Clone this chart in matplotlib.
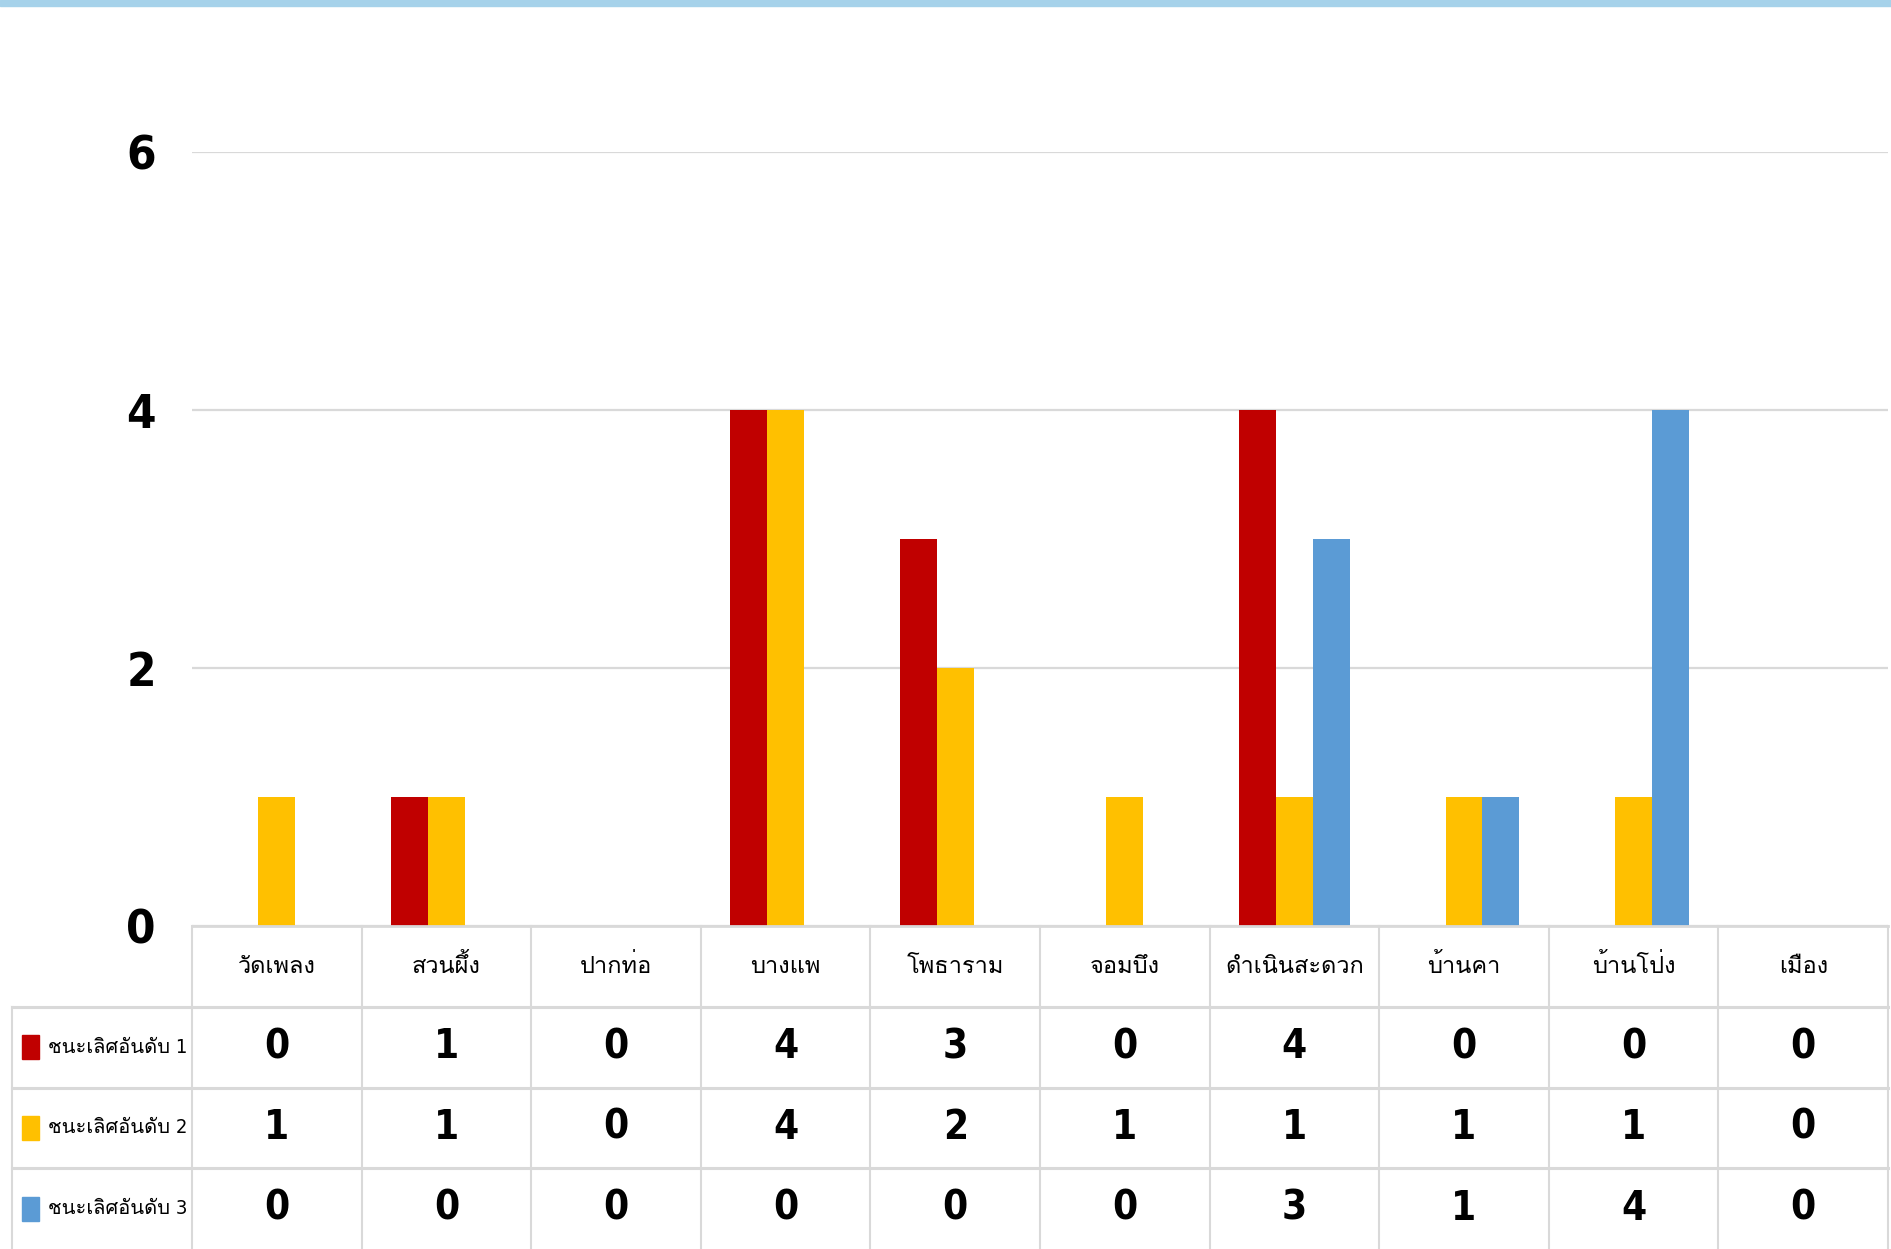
import numpy as np
import matplotlib
matplotlib.use('Agg')
import matplotlib.pyplot as plt
from matplotlib import font_manager, ft2font
from matplotlib.patches import Rectangle

# data
districts = ['วัดเพลง', 'สวนผึ้ง', 'ปากท่อ', 'บางแพ', 'โพธาราม', 'จอมบึง',
             'ดำเนินสะดวก', 'บ้านคา', 'บ้านโป่ง', 'เมือง']
series_names = ['ชนะเลิศอันดับ 1', 'ชนะเลิศอันดับ 2', 'ชนะเลิศอันดับ 3']
first = [0, 1, 0, 4, 3, 0, 4, 0, 0, 0]
second = [1, 1, 0, 4, 2, 1, 1, 1, 1, 0]
third = [0, 0, 0, 0, 0, 0, 3, 1, 4, 0]
colors = ['#C00000', '#FFC000', '#5B9BD5']
yticks = [0, 2, 4, 6]


def find_thai():
    # look for any installed font that has Thai glyphs
    names = []
    for f in font_manager.fontManager.ttflist:
        try:
            if 0x0E01 in ft2font.FT2Font(f.fname).get_charmap():
                names.append(f.name)
        except Exception:
            pass
    return names[:1]


fams = ['Liberation Sans Narrow', 'DejaVu Sans'] + find_thai()

W, H = 1891, 1249
fig = plt.figure(figsize=(W / 100, H / 100), dpi=100)
fig.patch.set_facecolor('white')

left, right, y0, y6 = 192, 1888, 926, 152
ax = fig.add_axes([left / W, (H - y0) / H, (right - left) / W, (y0 - y6) / H])
n = len(districts)
x = np.arange(n)
bw = 0.218
for k, vals in enumerate([first, second, third]):
    ax.bar(x + (k - 1) * bw, vals, bw, color=colors[k], zorder=3)
ax.set_xlim(-0.5, n - 0.5)
ax.set_ylim(0, 6)
ax.set_yticks(yticks)
ax.set_yticklabels([str(t) for t in yticks], family=fams, fontstretch='condensed',
                   fontsize=34, fontweight='bold')
ax.tick_params(axis='y', length=0, pad=26)
ax.set_xticks([])
ax.yaxis.grid(True, color='#D9D9D9', lw=1.6, zorder=0)
for s in ax.spines.values():
    s.set_visible(False)

# data table under the chart
legw = (left - 12) / ((right - left) / n)
tax = fig.add_axes([12 / W, 0, (right - 12) / W, (H - y0) / H])
tax.set_xlim(-0.5 - legw, n - 0.5)
tax.set_ylim(0, 4)
tax.axis('off')
lc = '#D9D9D9'
tax.plot([-0.5, n - 0.5], [4, 4], color=lc, lw=2, clip_on=False)
for yy in [3, 2, 1]:
    tax.plot([-0.5 - legw, n - 0.5], [yy, yy], color=lc, lw=2.2, clip_on=False)
for i in range(n + 1):
    tax.plot([i - 0.5, i - 0.5], [0, 4], color=lc, lw=1.5, clip_on=False)
tax.plot([-0.5 - legw, -0.5 - legw], [0, 3], color=lc, lw=1.5, clip_on=False)

for i, name in enumerate(districts):
    tax.text(i, 3.5, name, ha='center', va='center', fontsize=17, family=fams,
             fontstretch='condensed')
for r, vals in enumerate([first, second, third]):
    yc = 2.5 - r
    for i, v in enumerate(vals):
        tax.text(i, yc, str(v), ha='center', va='center', fontsize=29,
                 fontweight='bold', family=fams, fontstretch='condensed')
    tax.add_patch(Rectangle((-0.5 - legw + 0.06, yc - 0.15), 0.1, 0.3,
                            color=colors[r], clip_on=False))
    tax.text(-0.5 - legw + 0.21, yc, series_names[r], ha='left', va='center',
             fontsize=14.5, family=fams, fontstretch='condensed')

# light blue band on top
fig.patches.append(Rectangle((0, 1 - 6 / H), 1, 6 / H, transform=fig.transFigure,
                             color='#A6D2EA', zorder=5))

fig.savefig('out.png', dpi=100)
